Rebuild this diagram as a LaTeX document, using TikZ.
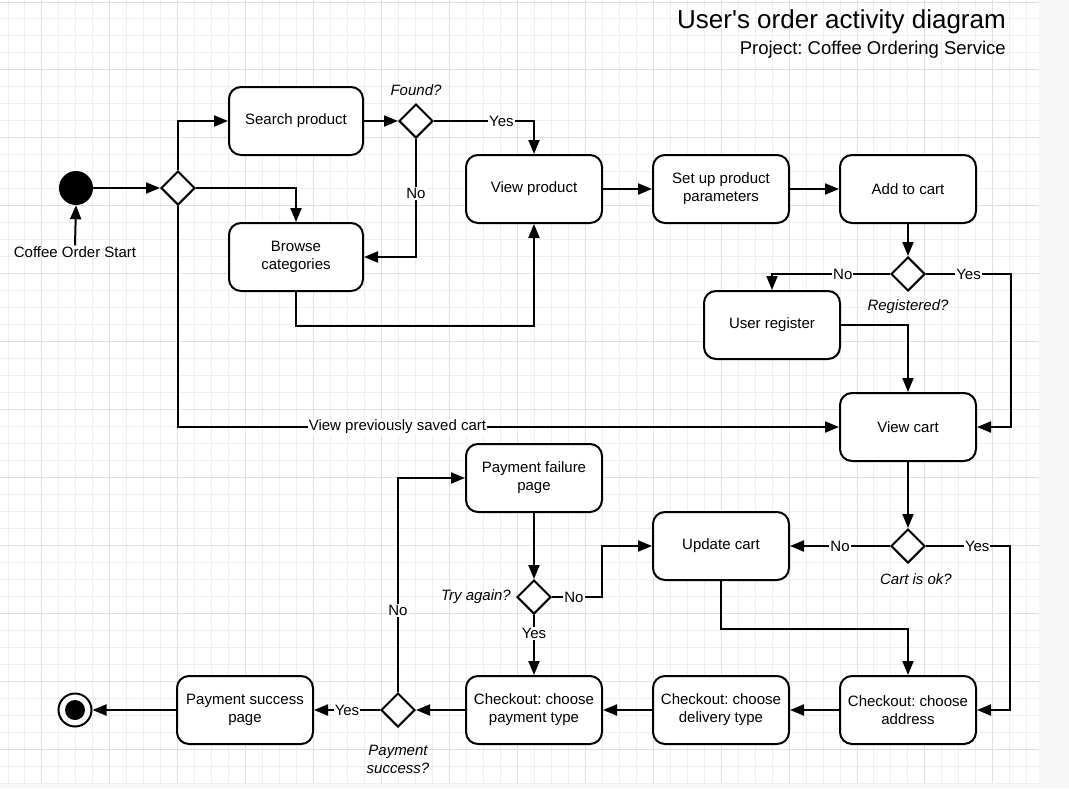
\documentclass[tikz,border=0pt]{standalone}
\usepackage{fontspec}
\setmainfont{Liberation Sans}
\usetikzlibrary{arrows.meta,shapes.geometric}
\definecolor{gridminor}{HTML}{EFEFEF}
\definecolor{gridmajor}{HTML}{E0E0E0}
\definecolor{outside}{HTML}{F7F7F7}
\newcommand{\nodefont}{\fontsize{15}{18}\selectfont}
\frenchspacing
\begin{document}
\begin{tikzpicture}[x=1pt,y=-1pt,
  box/.style={draw, line width=2pt, rounded corners=12pt, minimum width=136pt, minimum height=68pt, align=center, fill=white, font=\nodefont, inner sep=2pt},
  dec/.style={draw, diamond, aspect=1, minimum size=34pt, inner sep=0pt, line width=2pt, fill=white},
  conn/.style={line width=2pt, -{Triangle[length=14pt,width=11pt]}},
  plain/.style={line width=2pt},
  lbl/.style={fill=white, inner sep=1pt, font=\nodefont},
  qlbl/.style={font=\nodefont\itshape, align=center, inner sep=0pt},
]
% background and grid
\useasboundingbox (0,0) rectangle (1069,788);
\fill[outside] (0,0) rectangle (1069,788);
\fill[white] (0,0) rectangle (1039,783);
\foreach \k in {0,...,60} \draw[gridminor, line width=1pt] ({8+16.98*\k},0) -- ({8+16.98*\k},783);
\foreach \k in {0,...,46} \draw[gridminor, line width=1pt] (0,{2+16.98*\k}) -- (1039,{2+16.98*\k});
\foreach \k in {2,6,...,58} \draw[gridmajor, line width=1pt] ({8+16.98*\k},0) -- ({8+16.98*\k},783);
\foreach \k in {0,4,...,44} \draw[gridmajor, line width=1pt] (0,{2+16.98*\k}) -- (1039,{2+16.98*\k});

% title
\node[anchor=base east, font=\fontsize{26}{30}\selectfont, inner sep=0pt] (title) at (1006,28) {User\textquotesingle s order activity diagram};
\node[anchor=base east, font=\fontsize{18.5}{22}\selectfont, inner sep=0pt] (subtitle) at (1006,54) {Project: Coffee Ordering Service};

% nodes
\node[circle, fill=black, minimum size=34pt, inner sep=0pt] (start) at (76,188) {};
\node[font=\nodefont, inner sep=1pt] (startlbl) at (75,252) {Coffee Order Start};
\node[dec] (fork) at (178,188) {};
\node[box, minimum width=134pt] (search) at (296,121) {Search product};
\node[dec] (found) at (416,121) {};
\node[box, minimum width=134pt] (browse) at (296,257) {Browse\\categories};
\node[box] (viewprod) at (534,189) {View product};
\node[box] (setup) at (721,189) {Set up product\\parameters};
\node[box] (addcart) at (908,189) {Add to cart};
\node[dec] (reg) at (908,274) {};
\node[box] (userreg) at (772,325) {User register};
\node[box] (viewcart) at (908,427) {View cart};
\node[dec] (cartok) at (908,546) {};
\node[box] (update) at (721,546) {Update cart};
\node[box] (payfail) at (534,478) {Payment failure\\page};
\node[dec] (tryagain) at (534,597) {};
\node[box] (chkaddr) at (908,710) {Checkout: choose\\address};
\node[box] (chkdel) at (721,710) {Checkout: choose\\delivery type};
\node[box] (chkpay) at (534,710) {Checkout: choose\\payment type};
\node[dec] (paysq) at (398,710) {};
\node[box] (page) at (245,710) {Payment success\\page};
\node[circle, draw, line width=2pt, fill=white, minimum size=33pt, inner sep=0pt] (end) at (75,710) {};
\fill[black] (end.center) circle (10);

% question labels
\node[qlbl] (qfound) at (416,90) {Found?};
\node[qlbl] (qreg) at (908,307) {Registered?};
\node[qlbl] (qcart) at (916,579) {Cart is ok?};
\node[qlbl, anchor=east] (qtry) at (511,597) {Try again?};
\node[qlbl] (qpay) at (398,759) {Payment\\success?};

% coordinates
\coordinate (regR) at (1011,274);
\coordinate (cartR) at (1010,546);
\coordinate (tryR) at (602,597);

% connectors
\draw[conn] (startlbl.north) -- (start.south);
\draw[conn] (start.east) -- (fork.west);
\draw[conn] (fork.north) |- (search.west);
\draw[conn] (fork.east) -| (browse.north);
\draw[conn] (fork.south) |- (viewcart.west) node[lbl, pos=0.666] {View previously saved cart};
\draw[conn] (search.east) -- (found.west);
\draw[conn] (found.east) -| (viewprod.north) node[lbl, pos=0.337] {Yes};
\draw[conn] (found.south) |- (browse.east) node[lbl, pos=0.23] {No};
\draw[conn] (browse.south) -- ++(0,34) -| (viewprod.south);
\draw[conn] (viewprod.east) -- (setup.west);
\draw[conn] (setup.east) -- (addcart.west);
\draw[conn] (addcart.south) -- (reg.north);
\draw[conn] (reg.west) -| (userreg.north) node[lbl, pos=0.2] {No};
\draw[conn] (reg.east) -- node[lbl] {Yes} (regR) |- (viewcart.east);
\draw[conn] (userreg.east) -| (viewcart.north);
\draw[conn] (viewcart.south) -- (cartok.north);
\draw[conn] (cartok.west) -- node[lbl] {No} (update.east);
\draw[conn] (cartok.east) -- node[lbl, pos=0.61] {Yes} (cartR) |- (chkaddr.east);
\draw[conn] (update.south) -- ++(0,48) -| (chkaddr.north);
\draw[conn] (chkaddr.west) -- (chkdel.east);
\draw[conn] (chkdel.west) -- (chkpay.east);
\draw[conn] (chkpay.west) -- (paysq.east);
\draw[conn] (paysq.west) -- node[lbl] {Yes} (page.east);
\draw[conn] (paysq.north) |- (payfail.west) node[lbl, pos=0.19] {No};
\draw[conn] (payfail.south) -- (tryagain.north);
\draw[conn] (tryagain.east) -- node[lbl, pos=0.44] {No} (tryR) |- (update.west);
\draw[conn] (tryagain.south) -- node[lbl, pos=0.31] {Yes} (chkpay.north);
\draw[conn] (page.west) -- (end.east);
\end{tikzpicture}
\end{document}
